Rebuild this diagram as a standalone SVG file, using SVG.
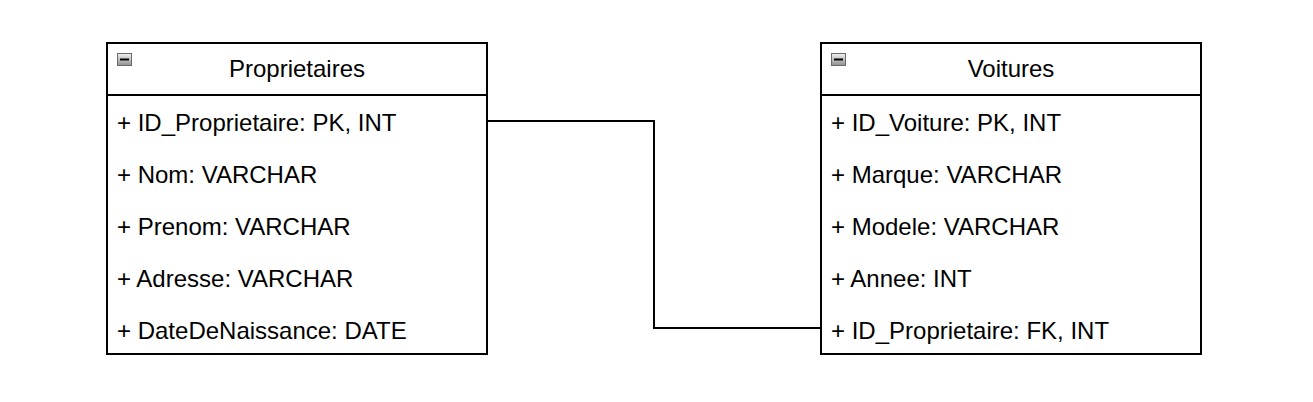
<svg xmlns="http://www.w3.org/2000/svg" width="1313" height="402" viewBox="0 0 1313 402">
<style>
.box{fill:#fff;stroke:#000;stroke-width:2}
.div{stroke:#000;stroke-width:2}
.t{font-family:"Liberation Sans",Arial,sans-serif;font-size:24px;fill:#000}
.title{text-anchor:middle}
.conn{fill:none;stroke:#000;stroke-width:2}
</style>
<defs>
<linearGradient id="ig" x1="0" y1="0" x2="0" y2="1">
<stop offset="0" stop-color="#f2f2f2"/>
<stop offset="1" stop-color="#8f8f8f"/>
</linearGradient>
<g id="icon">
<rect x="0.5" y="0.5" width="14" height="12" fill="url(#ig)" stroke="#6b6b6b" stroke-width="1"/>
<line x1="3" y1="6.5" x2="12" y2="6.5" stroke="#000" stroke-width="2"/>
</g>
</defs>
<g id="connectors">
<polyline class="conn" points="487,121 654,121 654,328 821,328"/>
</g>
<g id="proprietaires">
<rect class="box" x="107" y="43" width="380" height="311"/>
<line class="div" x1="107" y1="95" x2="487" y2="95"/>
<use href="#icon" x="117" y="53"/>
<text class="t title" x="297" y="77">Proprietaires</text>
<text class="t" x="117" y="131">+ ID_Proprietaire: PK, INT</text>
<text class="t" x="117" y="183">+ Nom: VARCHAR</text>
<text class="t" x="117" y="235">+ Prenom: VARCHAR</text>
<text class="t" x="117" y="287">+ Adresse: VARCHAR</text>
<text class="t" x="117" y="339">+ DateDeNaissance: DATE</text>
</g>
<g id="voitures">
<rect class="box" x="821" y="43" width="380" height="311"/>
<line class="div" x1="821" y1="95" x2="1201" y2="95"/>
<use href="#icon" x="831" y="53"/>
<text class="t title" x="1011" y="77">Voitures</text>
<text class="t" x="831" y="131">+ ID_Voiture: PK, INT</text>
<text class="t" x="831" y="183">+ Marque: VARCHAR</text>
<text class="t" x="831" y="235">+ Modele: VARCHAR</text>
<text class="t" x="831" y="287">+ Annee: INT</text>
<text class="t" x="831" y="339">+ ID_Proprietaire: FK, INT</text>
</g>
</svg>
